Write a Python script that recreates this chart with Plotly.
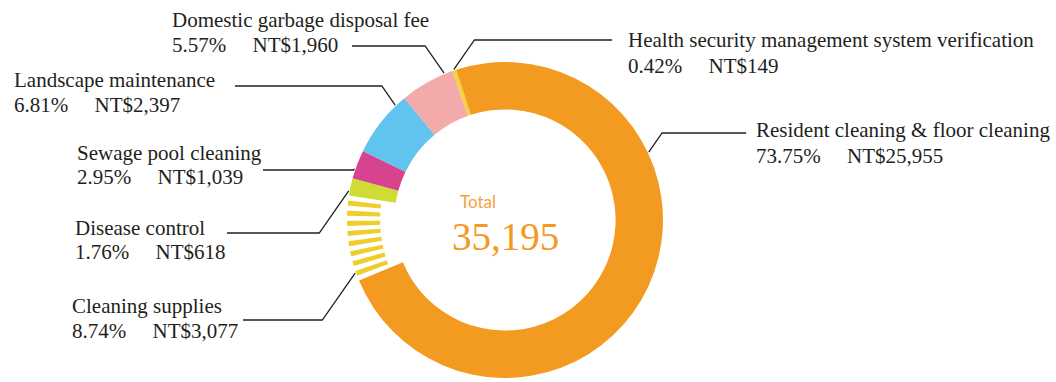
import math
import plotly.graph_objects as go

# ---- data -------------------------------------------------------------
# slices in clockwise drawing order, starting with the thin slice at the top
categories = [
    "Health security management system verification",
    "Resident cleaning & floor cleaning",
    "Cleaning supplies",
    "Disease control",
    "Sewage pool cleaning",
    "Landscape maintenance",
    "Domestic garbage disposal fee",
]
amounts = [149, 25955, 3077, 618, 1039, 2397, 1960]
total = sum(amounts)

# ---- styling ----------------------------------------------------------
W, H = 1056, 382
slice_colors = ["#F3D43A", "#F39A21", None, "#CEDC34", "#D6448F", "#61C4EF", "#F2AAAA"]
STRIPED = "Cleaning supplies"
stripe_color = "#EFCD2A"
N_STRIPES = 8
STRIPE_PART, GAP_PART = 0.5, 0.5

CX, CY, R = 505, 220, 158          # ring centre / outer radius in px
HOLE = 0.70                        # main ring
STRIPE_HOLE = 0.79                 # hatched slice only covers the outer band
GROUP_START = 18                   # degrees counter-clockwise from 12 o'clock
ROT = -(GROUP_START + amounts[0] / total * 360)

LABEL_FONT = "'Liberation Serif', 'Times New Roman', serif"
LABEL_SIZE = 21
TEXT_COLOR = "#231F20"
LINE_COLOR = "#231F20"

# label placement: text x, first/second baseline, leader y, leader end x, side, anchor angle
label_layout = {
    "Health security management system verification": (626, 47, 73, 40, 612, +1, None),
    "Resident cleaning & floor cleaning": (754, 137, 163, 133, 746, +1, 64.7),
    "Cleaning supplies": (70, 313, 338, 320, 243, -1, 239),
    "Disease control": (73, 235, 259, 233, 227, -1, 272),
    "Sewage pool cleaning": (75, 160, 184, 170, 263, -1, 288.8),
    "Landscape maintenance": (12, 87, 112, 86, 235, -1, 316.3),
    "Domestic garbage disposal fee": (170, 27, 52, 46, 352, -1, 347.3),
}


def px(x):
    return x / W


def py(y):
    return 1 - y / H


domain = dict(x=[px(CX - R), px(CX + R)], y=[py(CY + R), py(CY - R)])

main_colors = [c if c is not None else "rgba(0,0,0,0)" for c in slice_colors]

fig = go.Figure()
fig.add_trace(go.Pie(
    labels=categories, values=amounts, sort=False, direction="clockwise",
    rotation=ROT, hole=HOLE, domain=domain, textinfo="none", hoverinfo="skip",
    marker=dict(colors=main_colors, line=dict(width=0)), showlegend=False,
))

# hatched slice: split the striped category into stripes and gaps
s_idx = categories.index(STRIPED)
unit = amounts[s_idx] / (N_STRIPES * STRIPE_PART + (N_STRIPES + 1) * GAP_PART)
hatch_vals, hatch_cols = [], []
for v in amounts[:s_idx]:
    hatch_vals.append(v)
    hatch_cols.append("rgba(0,0,0,0)")
for i in range(N_STRIPES):
    hatch_vals += [unit * GAP_PART, unit * STRIPE_PART]
    hatch_cols += ["rgba(0,0,0,0)", stripe_color]
hatch_vals.append(unit * GAP_PART)
hatch_cols.append("rgba(0,0,0,0)")
for v in amounts[s_idx + 1:]:
    hatch_vals.append(v)
    hatch_cols.append("rgba(0,0,0,0)")

fig.add_trace(go.Pie(
    labels=[f"h{i}" for i in range(len(hatch_vals))], values=hatch_vals,
    sort=False, direction="clockwise", rotation=ROT, hole=STRIPE_HOLE,
    domain=domain, textinfo="none", hoverinfo="skip",
    marker=dict(colors=hatch_cols, line=dict(width=0)), showlegend=False,
))

# ---- leader lines and labels -------------------------------------------
annotations, shapes = [], []
start = ROT
for name, v in zip(categories, amounts):
    span = v / total * 360
    a0, a1 = start, start + span
    start = a1
    tx, b1, b2, ly, lx, side, pref = label_layout[name]
    if pref is None:
        ang = (a0 + a1) / 2
    else:
        cand = min((pref + k * 360 for k in (-1, 0, 1)),
                   key=lambda p: 0 if a0 <= p <= a1 else min(abs(p - a0), abs(p - a1)))
        inset = min(3, 0.25 * span)
        ang = max(a0 + inset, min(a1 - inset, cand))
    rad = math.radians(ang)
    ex, ey = CX + (R + 1) * math.sin(rad), CY - (R + 1) * math.cos(rad)
    kx = ex + side * 0.7 * abs(ly - ey)
    shapes.append(dict(
        type="path", xref="paper", yref="paper",
        path=f"M {px(ex)} {py(ey)} L {px(kx)} {py(ly)} L {px(lx)} {py(ly)}",
        line=dict(color=LINE_COLOR, width=1.3),
    ))
    pct = f"{v / total * 100:.2f}%"
    fs = LABEL_SIZE
    annotations.append(dict(
        text=name, x=px(tx), y=py(b1 - 0.33 * fs), xref="paper", yref="paper",
        xanchor="left", yanchor="middle", showarrow=False,
        font=dict(family=LABEL_FONT, size=fs, color=TEXT_COLOR),
    ))
    annotations.append(dict(
        text=pct + "\u00a0" * 5 + f"NT${v:,}", x=px(tx), y=py(b2 - 0.33 * fs),
        xref="paper", yref="paper", xanchor="left", yanchor="middle", showarrow=False,
        font=dict(family=LABEL_FONT, size=fs, color=TEXT_COLOR),
    ))

# centre text
annotations.append(dict(
    text="Total", x=px(458), y=py(201), xref="paper", yref="paper",
    xanchor="left", yanchor="middle", showarrow=False,
    font=dict(family="Lato", size=17, color="#F4A240"),
))
annotations.append(dict(
    text=f"{total:,}", x=px(CX), y=py(236), xref="paper", yref="paper",
    xanchor="center", yanchor="middle", showarrow=False,
    font=dict(family=LABEL_FONT, size=39, color="#F39A21"),
))

fig.update_layout(
    width=W, height=H, margin=dict(l=0, r=0, t=0, b=0),
    paper_bgcolor="white", plot_bgcolor="white",
    annotations=annotations, shapes=shapes, showlegend=False,
)

fig.write_html("out.html")
